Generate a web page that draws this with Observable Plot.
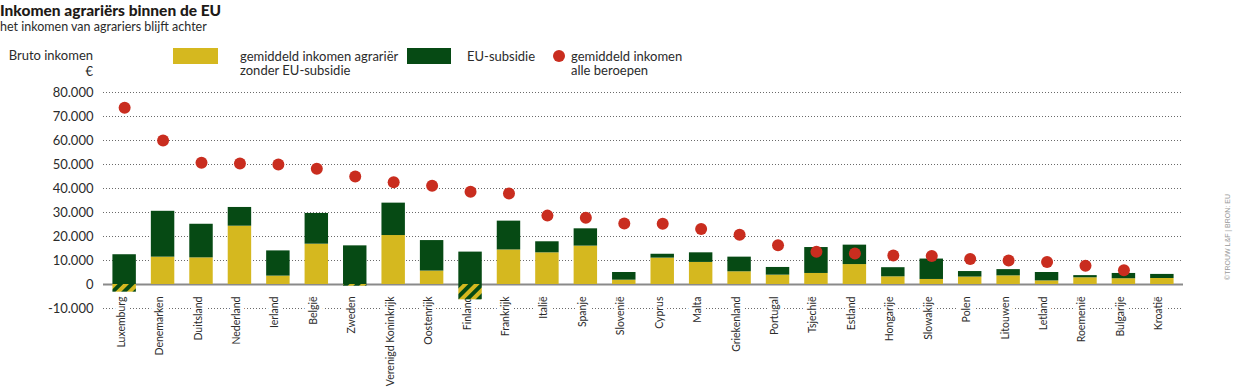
<!DOCTYPE html>
<html>
<head>
<meta charset="utf-8">
<script src="https://cdn.jsdelivr.net/npm/d3@7"></script>
<script src="https://cdn.jsdelivr.net/npm/@observablehq/plot@0.6"></script>
<style>
  html, body { margin: 0; padding: 0; background: #fff; }
  #wrap { position: relative; width: 1240px; height: 389px; overflow: hidden; font-family: Lato, "Open Sans", sans-serif; color: #2b2b2b; }
  #wrap svg { position: absolute; left: 0; top: 0; }
  .abs { position: absolute; white-space: nowrap; }
  .title { left: 0; top: 1px; font-size: 15.5px; font-weight: 900; line-height: 18px; color: #1e1a17; }
  .sub { left: 0; top: 19px; font-size: 12.5px; line-height: 15px; color: #2b2b2b; }
  .leg { font-size: 13px; line-height: 14px; top: 49px; color: #2b2b2b; }
  .sw { position: absolute; top: 48px; height: 16px; }
  .credit { left: 1227px; top: 237px; font-family: "Liberation Sans", sans-serif; font-size: 7px; color: #999; transform: translate(-50%, -50%) rotate(-90deg); }
</style>
</head>
<body>
<div id="wrap"></div>
<script>
const countries = ["Luxemburg","Denemarken","Duitsland","Nederland","Ierland","België","Zweden","Verenigd Koninkrijk","Oostenrijk","Finland","Frankrijk","Italië","Spanje","Slovenië","Cyprus","Malta","Griekenland","Portugal","Tsjechië","Estland","Hongarije","Slowakije","Polen","Litouwen","Letland","Roemenië","Bulgarije","Kroatië"];
const withoutSubsidy = [-3200, 11400, 11100, 24300, 3500, 16800, -700, 20400, 5600, -6400, 14400, 13200, 16000, 1800, 11000, 9200, 5300, 3900, 4600, 8300, 3200, 2100, 3100, 3600, 1500, 2800, 2400, 2500];
const totalIncome = [12400, 30500, 25100, 32100, 14000, 29600, 16100, 33900, 18300, 13500, 26400, 17800, 23200, 5000, 12600, 13200, 11400, 7100, 15400, 16400, 7000, 10600, 5400, 6200, 5000, 3700, 4600, 4200];
const allProfessions = [73600, 60000, 50700, 50400, 50000, 48200, 45000, 42600, 41100, 38600, 37900, 28700, 27800, 25400, 25300, 23100, 20700, 16400, 13600, 12900, 12100, 11900, 10600, 10000, 9400, 7800, 5900, null];
const yTicks = [-10000, 0, 10000, 20000, 30000, 40000, 50000, 60000, 70000, 80000];

const YELLOW = "#d5b81f", GREEN = "#064a14", RED = "#c92d1f";

const rows = countries.map((c, i) => ({country: c, base: withoutSubsidy[i], total: totalIncome[i], dot: allProfessions[i]}));
const fmt = d3.formatLocale({decimal: ",", thousands: ".", grouping: [3], currency: ["€", ""], minus: "-"}).format(",d");

const chart = Plot.plot({
  width: 1240,
  height: 389,
  marginTop: 92,
  marginBottom: 81,
  marginLeft: 103,
  marginRight: 57,
  style: {fontFamily: "Lato, sans-serif", fontSize: "13px", color: "#2b2b2b", background: "transparent", overflow: "visible"},
  x: {domain: countries, paddingInner: 0.39, paddingOuter: 0.245, round: false, axis: null},
  y: {domain: [-10000, 80000], axis: null},
  marks: [
    Plot.ruleY(yTicks.filter(d => d !== 0), {stroke: "#6a6a6a", strokeDasharray: "1,2", strokeWidth: 1}),
    Plot.axisY({ticks: yTicks, tickSize: 0, tickPadding: 10, tickFormat: fmt, fontSize: 13, fill: "#2b2b2b"}),
    Plot.text(countries, {x: d => d, frameAnchor: "bottom", rotate: -90, textAnchor: "end", dy: -12, fontSize: 10.5, fill: "#2b2b2b", stroke: "white", strokeWidth: 8, paintOrder: "stroke"}),
    Plot.ruleY([0], {stroke: "#8a8a8a", strokeWidth: 2}),
    Plot.barY(rows.filter(d => d.base > 0), {x: "country", y1: 0, y2: "base", fill: YELLOW}),
    Plot.barY(rows.filter(d => d.base < 0), {x: "country", y1: "base", y2: 0, fill: "url(#hatch)"}),
    Plot.barY(rows, {x: "country", y1: d => Math.max(0, d.base), y2: "total", fill: GREEN}),
    Plot.dot(rows.filter(d => d.dot != null), {x: "country", y: "dot", r: 6, fill: RED, stroke: "none"})
  ]
});

chart.insertAdjacentHTML("afterbegin",
  `<defs><pattern id="hatch" patternUnits="userSpaceOnUse" width="8" height="8" patternTransform="rotate(45)">
     <rect x="0" y="0" width="8" height="8" fill="${GREEN}"></rect>
     <rect x="0" y="0" width="4" height="8" fill="${YELLOW}"></rect>
   </pattern></defs>`);

const wrap = document.getElementById("wrap");
wrap.appendChild(chart);

const html = `
  <div class="abs title">Inkomen agrariërs binnen de EU</div>
  <div class="abs sub">het inkomen van agrariers blijft achter</div>
  <div class="abs leg" style="right:${1240-93}px; top:48px; text-align:right;">Bruto inkomen</div>
  <div class="abs leg" style="right:${1240-93}px; top:64px; text-align:right;">€</div>
  <div class="sw" style="left:173px; width:45px; background:${YELLOW};"></div>
  <div class="abs leg" style="left:240px;">gemiddeld inkomen agrariër<br>zonder EU-subsidie</div>
  <div class="sw" style="left:407px; width:44px; background:${GREEN};"></div>
  <div class="abs leg" style="left:467px;">EU-subsidie</div>
  <div class="abs" style="left:553px; top:50px; width:12px; height:12px; border-radius:50%; background:${RED};"></div>
  <div class="abs leg" style="left:571px;">gemiddeld inkomen<br>alle beroepen</div>
  <div class="abs credit">©TROUW L&amp;F | BRON: EU</div>
`;
wrap.insertAdjacentHTML("beforeend", html);
</script>
</body>
</html>
